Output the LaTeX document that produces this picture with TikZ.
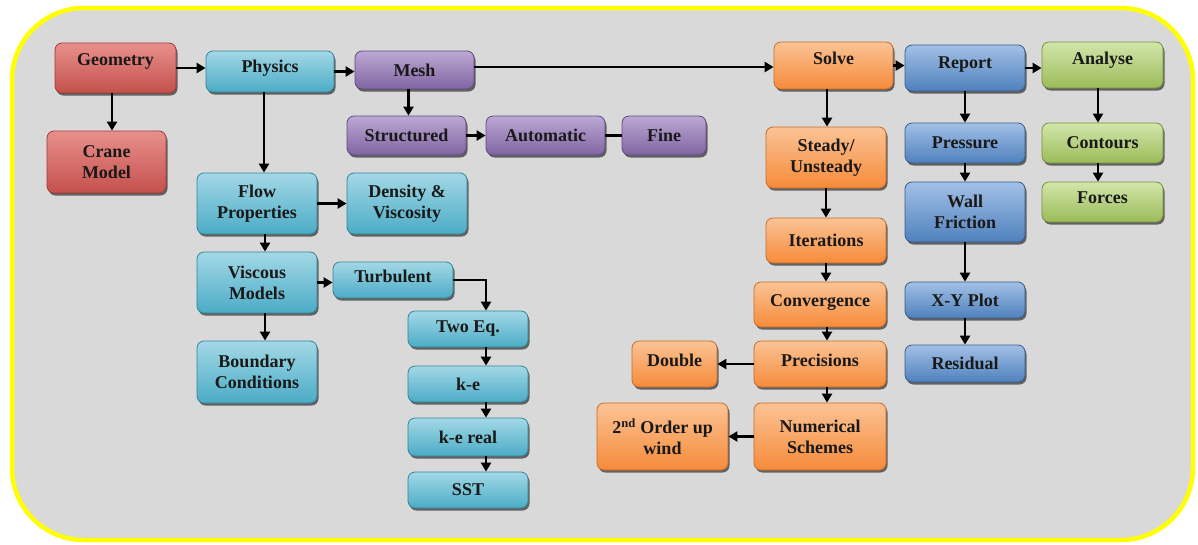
\documentclass[tikz,border=0pt]{standalone}
\usepackage{fontspec}
\setmainfont{Liberation Serif}
\usetikzlibrary{arrows.meta,shadows}

% palette: light (top), base (bottom), border
\definecolor{redL}{HTML}{E8908C}\definecolor{redM}{HTML}{C4504C}\definecolor{redB}{HTML}{9E3C39}
\definecolor{cyL}{HTML}{A3D8E6}\definecolor{cyM}{HTML}{4BACC6}\definecolor{cyB}{HTML}{31859C}
\definecolor{puL}{HTML}{BCA9D4}\definecolor{puM}{HTML}{8064A2}\definecolor{puB}{HTML}{5F4A7D}
\definecolor{orL}{HTML}{FBC395}\definecolor{orM}{HTML}{F68B3A}\definecolor{orB}{HTML}{C86B26}
\definecolor{blL}{HTML}{A2C0E6}\definecolor{blM}{HTML}{4F81BD}\definecolor{blB}{HTML}{385D8A}
\definecolor{grL}{HTML}{D2E6AA}\definecolor{grM}{HTML}{9BBB59}\definecolor{grB}{HTML}{76923C}
\definecolor{panel}{HTML}{D9D9D9}
\definecolor{frame}{HTML}{FFFF00}

\tikzset{
  box/.style={rounded corners=7pt, line width=0.8pt, align=center,
    font=\bfseries\fontsize{18}{21}\selectfont, text=black!90, inner sep=2pt,
    drop shadow={shadow xshift=1.5pt, shadow yshift=-2.5pt, opacity=0.55, fill=black}},
  boxred/.style={box, draw=redB, top color=redL, bottom color=redM},
  boxcy/.style={box, draw=cyB, top color=cyL, bottom color=cyM},
  boxpu/.style={box, draw=puB, top color=puL, bottom color=puM},
  boxor/.style={box, draw=orB, top color=orL, bottom color=orM},
  boxbl/.style={box, draw=blB, top color=blL, bottom color=blM},
  boxgr/.style={box, draw=grB, top color=grL, bottom color=grM},
  % raise a single-line label above the box centre
  liftby/.style={text height=12pt, text depth={4pt+2*#1}},
  arr/.style={line width=2.6pt, -{Triangle[length=9pt,width=10pt]}},
  conn/.style={line width=2.6pt},
}

% \flowbox{name}{x1}{y1}{x2}{y2}{style}{text}
\newcommand\flowbox[7]{%
  \node[#6, minimum width={(#4)-(#2)}, minimum height={(#5)-(#3)}]
    (#1) at ({((#2)+(#4))/2},{((#3)+(#5))/2}) {#7};}

\begin{document}
\begin{tikzpicture}[x=1pt, y=-1pt]
  \fill[white] (0,0) rectangle (1198,544);
  \useasboundingbox (0,0) rectangle (1198,544);
  \draw[frame, line width=4.5pt, fill=panel, rounded corners=72pt] (12,8) rectangle (1193,540);

  % pre-processing
  \flowbox{geo}{55}{43}{176}{93}{boxred, liftby=7pt}{Geometry}
  \flowbox{crane}{47}{131}{166}{193}{boxred}{Crane\\Model}

  % physics set-up
  \flowbox{phys}{206}{51}{334}{92}{boxcy, liftby=3pt}{Physics}
  \flowbox{flow}{197}{173}{317}{234}{boxcy}{Flow\\Properties}
  \flowbox{dens}{347}{173}{467}{234}{boxcy}{Density \&\\Viscosity}
  \flowbox{visc}{197}{252}{317}{313}{boxcy}{Viscous\\Models}
  \flowbox{bound}{197}{341}{317}{403}{boxcy}{Boundary\\Conditions}
  \flowbox{turb}{333}{262}{453}{298}{boxcy, liftby=2pt}{Turbulent}
  \flowbox{twoeq}{408}{311}{528}{347}{boxcy}{Two Eq.}
  \flowbox{ke}{408}{366}{528}{402}{boxcy}{k-e}
  \flowbox{kereal}{408}{418}{528}{456}{boxcy}{k-e real}
  \flowbox{sst}{408}{472}{528}{508}{boxcy}{SST}

  % meshing
  \flowbox{mesh}{355}{51}{474}{89}{boxpu}{Mesh}
  \flowbox{struct}{347}{116}{466}{155}{boxpu}{Structured}
  \flowbox{auto}{486}{116}{605}{155}{boxpu}{Automatic}
  \flowbox{fine}{622}{116}{706}{155}{boxpu}{Fine}

  % solver
  \flowbox{solve}{774}{42}{893}{89}{boxor, liftby=5pt}{Solve}
  \flowbox{steady}{766}{127}{886}{188}{boxor}{Steady/\\Unsteady}
  \flowbox{iter}{766}{218}{886}{263}{boxor}{Iterations}
  \flowbox{conv}{754}{282}{886}{327}{boxor, liftby=2pt}{Convergence}
  \flowbox{prec}{754}{341}{886}{387}{boxor, liftby=2pt}{Precisions}
  \flowbox{double}{632}{341}{717}{387}{boxor, liftby=2pt}{Double}
  \flowbox{numer}{754}{403}{886}{470}{boxor}{Numerical\\Schemes}
  \flowbox{order}{597}{403}{728}{470}{boxor}{2\textsuperscript{nd} Order up\\wind}

  % reporting
  \flowbox{report}{905}{45}{1025}{91}{boxbl, liftby=4pt}{Report}
  \flowbox{press}{905}{123}{1025}{163}{boxbl}{Pressure}
  \flowbox{wall}{905}{182}{1025}{242}{boxbl}{Wall\\Friction}
  \flowbox{xy}{905}{282}{1025}{318}{boxbl}{X-Y Plot}
  \flowbox{resid}{905}{345}{1025}{382}{boxbl}{Residual}

  % post-processing
  \flowbox{analyse}{1042}{42}{1163}{88}{boxgr, liftby=5pt}{Analyse}
  \flowbox{cont}{1042}{123}{1163}{163}{boxgr}{Contours}
  \flowbox{forces}{1042}{182}{1163}{222}{boxgr, liftby=3pt}{Forces}

  % main chain
  \draw[arr] (geo.east) -- (geo.east -| phys.west);
  \draw[arr] (phys.east) -- (phys.east -| mesh.west);
  \draw[arr] ([yshift=3pt]mesh.east) -- ([yshift=3pt]mesh.east -| solve.west);
  \draw[arr] (solve.east) -- (solve.east -| report.west);
  \draw[arr] (report.east) -- (report.east -| analyse.west);

  % geometry branch
  \draw[arr] ([xshift=-3.5pt]geo.south) -- ([xshift=-3.5pt]geo.south |- crane.north);

  % physics branch
  \draw[arr] ([xshift=-6pt]phys.south) -- ([xshift=-6pt]phys.south |- flow.north);
  \draw[arr] (flow.east) -- (flow.east -| dens.west);
  \draw[arr] ([xshift=8pt]flow.south) -- ([xshift=8pt]visc.north);
  \draw[arr] ([xshift=8pt]visc.south) -- ([xshift=8pt]bound.north);
  \draw[arr] (visc.east) -- (visc.east -| turb.west);
  \draw[arr] (turb.east) -| ([xshift=18pt]twoeq.north);
  \draw[arr] ([xshift=18pt]twoeq.south) -- ([xshift=18pt]ke.north);
  \draw[arr] ([xshift=18pt]ke.south) -- ([xshift=18pt]kereal.north);
  \draw[arr] ([xshift=18pt]kereal.south) -- ([xshift=18pt]sst.north);

  % mesh branch
  \draw[arr] ([xshift=-6pt]mesh.south) -- ([xshift=-6pt]mesh.south |- struct.north);
  \draw[arr] (struct.east) -- (auto.west);
  \draw[conn] (auto.east) -- (fine.west);

  % solver branch
  \draw[arr] ([xshift=-6.5pt]solve.south) -- ([xshift=-6.5pt]solve.south |- steady.north);
  \draw[arr] (steady.south) -- (iter.north);
  \draw[arr] (iter.south) -- (iter.south |- conv.north);
  \draw[arr] ([xshift=7pt]conv.south) -- ([xshift=7pt]prec.north);
  \draw[arr] ([xshift=7pt]prec.south) -- ([xshift=7pt]numer.north);
  \draw[arr] (prec.west) -- (prec.west -| double.east);
  \draw[arr] (numer.west) -- (numer.west -| order.east);

  % report branch
  \draw[arr] (report.south) -- (press.north);
  \draw[arr] (press.south) -- (wall.north);
  \draw[arr] (wall.south) -- (xy.north);
  \draw[arr] (xy.south) -- (resid.north);

  % analyse branch
  \draw[arr] ([xshift=-4.5pt]analyse.south) -- ([xshift=-4.5pt]analyse.south |- cont.north);
  \draw[arr] ([xshift=-4.5pt]cont.south) -- ([xshift=-4.5pt]cont.south |- forces.north);
\end{tikzpicture}
\end{document}
